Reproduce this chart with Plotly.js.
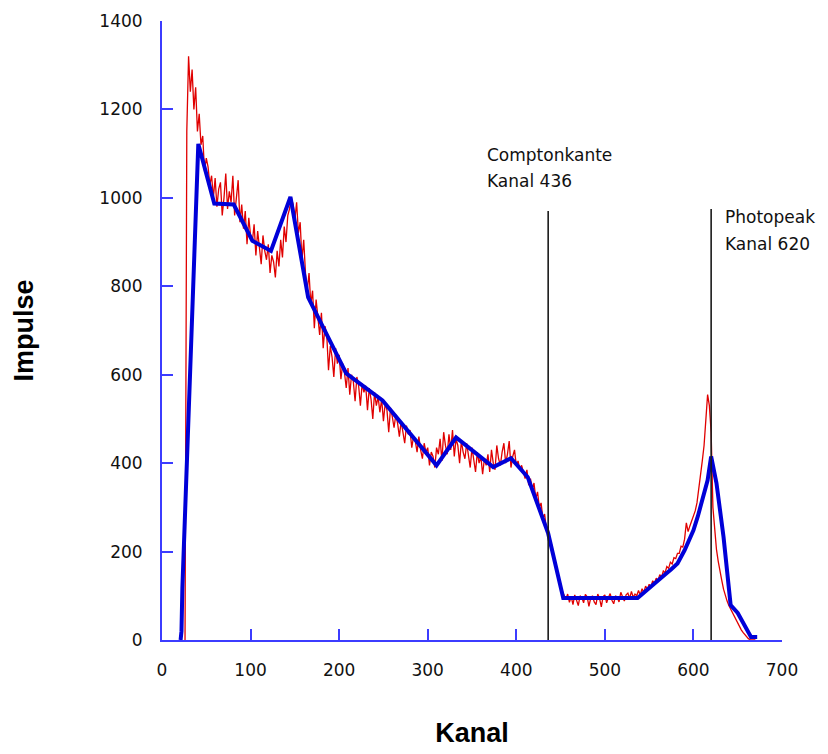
<!DOCTYPE html>
<html>
<head>
<meta charset="utf-8">
<script src="https://cdn.plot.ly/plotly-3.0.1.min.js"></script>
<style>html,body{margin:0;padding:0;background:#fff;}#chart{width:828px;height:754px;}</style>
</head>
<body>
<div id="chart"></div>
<script>
// Measured spectrum (red): counts per channel, channels start at 26, step 2
const redStartChannel = 26;
const redChannelStep = 2;
const redCounts = [
  0, 1150, 1320, 1240, 1290, 1200, 1250, 1150, 1190, 1120,   // 26-44
  1140, 1060, 1090, 1070, 1030, 1050, 1000, 1045, 980, 1020, // 46-64
  1035, 960, 1000, 1055, 975, 1015, 990, 1050, 960, 1005,    // 66-84
  1040, 945, 985, 930, 970, 895, 955, 915, 900, 940,         // 86-104
  870, 925, 890, 850, 915, 880, 860, 895, 830, 870,          // 106-124
  855, 820, 880, 845, 905, 865, 935, 900, 960, 975,          // 126-144
  1000, 985, 950, 990, 920, 945, 860, 905, 830, 790,         // 146-164
  830, 760, 790, 705, 770, 735, 690, 740, 660, 710,          // 166-184
  690, 610, 665, 640, 595, 660, 625, 645, 590, 625,          // 186-204
  605, 570, 615, 555, 600, 585, 540, 595, 575, 530,          // 206-224
  580, 560, 575, 520, 570, 545, 500, 560, 530, 550,          // 226-244
  515, 545, 495, 535, 520, 470, 525, 505, 480, 510,          // 246-264
  490, 460, 495, 470, 445, 485, 465, 475, 435, 460,          // 266-284
  450, 425, 460, 430, 410, 445, 425, 435, 395, 425,          // 286-304
  415, 390, 435, 420, 455, 405, 470, 440, 420, 465,          // 306-324
  430, 475, 415, 455, 440, 400, 450, 425, 410, 445,          // 326-344
  420, 390, 435, 405, 380, 425, 400, 415, 375, 410,          // 346-364
  395, 420, 380, 430, 400, 385, 440, 410, 395, 425,          // 366-384
  445, 400, 420, 450, 390, 415, 430, 395, 405, 385,          // 386-404
  395, 380, 365, 385, 350, 365, 340, 355, 320, 335,          // 406-424
  300, 310, 275, 285, 250, 255, 220, 215, 190, 175,          // 426-444
  160, 140, 125, 110, 100, 92, 104, 85, 98, 80,              // 446-464
  102, 92, 78, 100, 96, 84, 103, 98, 76, 95,                 // 466-484
  100, 86, 80, 104, 94, 75, 98, 102, 84, 96,                 // 486-504
  105, 90, 82, 100, 96, 86, 108, 98, 88, 102,                // 506-524
  106, 94, 110, 96, 104, 100, 112, 102, 116, 108,            // 526-544
  122, 114, 126, 120, 134, 128, 140, 134, 148, 142,          // 546-564
  156, 152, 166, 162, 176, 172, 186, 184, 196, 196,          // 566-584
  212, 210, 228, 265, 245, 258, 268, 280, 292, 310,          // 586-604
  338, 372, 405, 440, 500, 555, 530, 470, 300, 240,          // 606-624
  205, 178, 152, 135, 115, 100, 88, 78, 70, 60,              // 626-644
  55, 45, 37, 30, 23, 17, 12, 7, 3, 1,                       // 646-664
  0, 0, 0                                                    // 666-670
];
const redChannels = redCounts.map((_, i) => redStartChannel + i * redChannelStep);

// Smoothed spectrum (blue)
const blueChannels = [21, 22, 23, 25, 27, 29, 31, 33, 35, 37, 39, 41, 59, 81, 102, 123, 145, 165, 181, 208, 249, 310, 332, 374, 394, 413, 436, 453, 537, 545, 555, 565, 575, 582, 590, 596, 600, 605, 610, 616, 620, 626, 634, 642, 650, 665, 672];
const blueCounts   = [0, 20, 117, 226, 339, 447, 560, 690, 800, 900, 1010, 1122, 987, 985, 903, 880, 1002, 775, 711, 603, 542, 395, 458, 391, 411, 368, 241, 95, 95, 108, 124, 143, 160, 173, 203, 228, 248, 280, 316, 361, 415, 355, 233, 79, 61, 7, 7];

// Marked channels (Compton edge, photopeak)
const markerChannels = [436, 620];
const markerTops = [970, 975];
const markerLabels = [["Comptonkante", "Kanal 436"], ["Photopeak", "Kanal 620"]];

// Axis ticks
const kanalTicks = [0, 100, 200, 300, 400, 500, 600, 700];
const impulseTicks = [0, 200, 400, 600, 800, 1000, 1200, 1400];
const xTitle = "Kanal";
const yTitle = "Impulse";

const axisBlue = "#3c3cff";
const tickFont = {family: "DejaVu Sans, Arial, sans-serif", size: 17, color: "#111"};
const titleFont = {family: "Liberation Sans, Arial, sans-serif", size: 27, color: "#000", weight: "bold"};

const traces = [
  {x: redChannels, y: redCounts, type: "scatter", mode: "lines",
   line: {color: "#e00000", width: 1.3}, hoverinfo: "skip"},
  {x: blueChannels, y: blueCounts, type: "scatter", mode: "lines",
   line: {color: "#0000d8", width: 4, shape: "linear"}, hoverinfo: "skip"}
];

const shapes = markerChannels.map((c, i) => ({
  type: "line", xref: "x", yref: "y", x0: c, x1: c, y0: -6, y1: markerTops[i],
  line: {color: "#1a1a1a", width: 1.6}, layer: "above"
}));

const labelPos = [{x: 364.7, y: [1096, 1038]}, {x: 633.4, y: [956, 895]}];
const annotations = [];
markerLabels.forEach((lines, i) => {
  lines.forEach((t, j) => {
    annotations.push({
      text: t, xref: "x", yref: "y", x: labelPos[i].x, y: labelPos[i].y[j],
      xanchor: "left", yanchor: "middle", showarrow: false, align: "left",
      font: {family: "DejaVu Sans, Arial, sans-serif", size: 17, color: "#111"}
    });
  });
});

const axisCommon = {
  showgrid: false, zeroline: false, showline: true, linecolor: axisBlue, linewidth: 2,
  ticks: "inside", ticklen: 11, tickwidth: 2, tickcolor: axisBlue,
  tickfont: tickFont, mirror: false, automargin: false
};

const layout = {
  width: 828, height: 754,
  margin: {l: 162, r: 46, t: 21, b: 114, pad: 0},
  paper_bgcolor: "#ffffff", plot_bgcolor: "#ffffff",
  showlegend: false,
  xaxis: Object.assign({}, axisCommon, {
    range: [0, 700], tickvals: kanalTicks, ticktext: kanalTicks.map(String),
    ticklabelstandoff: 14,
    title: {text: xTitle, font: titleFont, standoff: 44}
  }),
  yaxis: Object.assign({}, axisCommon, {
    range: [0, 1400], tickvals: impulseTicks, ticktext: impulseTicks.map(String),
    ticklabelstandoff: 14,
    title: {text: yTitle, font: titleFont, standoff: 58}
  }),
  shapes: shapes,
  annotations: annotations
};

Plotly.newPlot("chart", traces, layout, {displayModeBar: false, staticPlot: true});
</script>
</body>
</html>
